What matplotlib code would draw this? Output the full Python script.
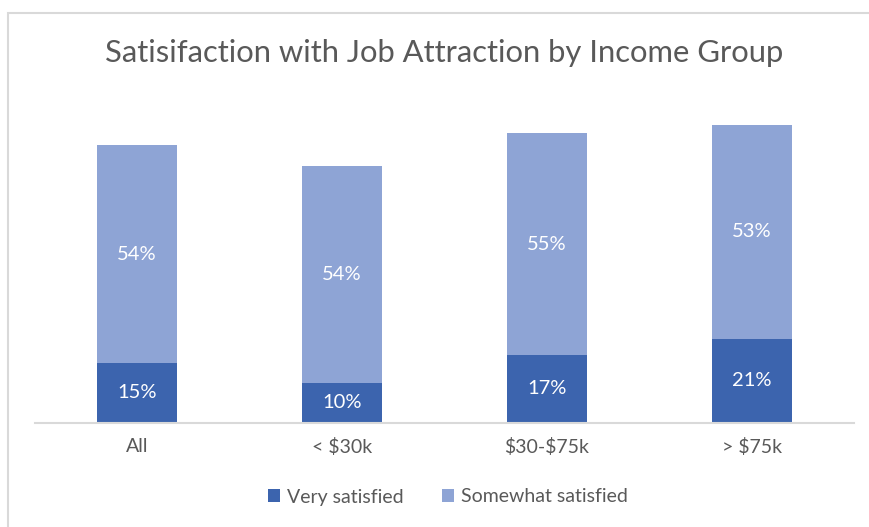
import numpy as np
import matplotlib.pyplot as plt
from matplotlib.patches import Rectangle

plt.rcParams['font.family'] = ['Lato', 'DejaVu Sans']
plt.rcParams['text.parse_math'] = False  # dollar signs in the labels

groups = ['All', '< $30k', '$30-$75k', '> $75k']
very = [15, 10, 17, 21]
somewhat = [54, 54, 55, 53]
series_names = ['Very satisfied', 'Somewhat satisfied']

dark = '#3C64AE'
light = '#8EA4D5'
grey = '#595959'

fig = plt.figure(figsize=(8.7, 5.27), dpi=100)

# light grey chart frame (right/bottom edges fall outside the image)
fig.patches.append(Rectangle((8 / 870, -0.05), 1.0, 1 - 12.5 / 527 + 0.05,
                             transform=fig.transFigure, fill=False,
                             edgecolor='#d9d9d9', linewidth=1.5))

ax = fig.add_axes([34.5 / 870, (527 - 423) / 527, 820 / 870, 323 / 527])
x = np.arange(len(groups))
w = 0.395
b1 = ax.bar(x, very, w, color=dark, label=series_names[0])
b2 = ax.bar(x, somewhat, w, bottom=very, color=light, label=series_names[1])

for i in range(len(groups)):
    ax.text(x[i], very[i] / 2, f'{very[i]}%', ha='center', va='center',
            color='white', fontsize=14.5)
    ax.text(x[i], very[i] + somewhat[i] / 2, f'{somewhat[i]}%', ha='center',
            va='center', color='white', fontsize=14.5)

ax.set_xlim(-0.5, 3.5)
ax.set_ylim(0, 80.3)
ax.set_yticks([])
ax.set_xticks(x)
ax.set_xticklabels(groups, fontsize=14, color=grey)
ax.tick_params(axis='x', length=0, pad=11)
for s in ['top', 'right', 'left']:
    ax.spines[s].set_visible(False)
ax.spines['bottom'].set_color('#d9d9d9')
ax.spines['bottom'].set_linewidth(1.5)

fig.text(444 / 870, 1 - 53 / 527, 'Satisifaction with Job Attraction by Income Group',
         ha='center', va='center', fontsize=22.3, color=grey)

fig.legend(handles=[b1, b2], loc='center', bbox_to_anchor=(448 / 870, 1 - 497 / 527),
           ncol=2, frameon=False, fontsize=14, handlelength=0.6,
           handleheight=0.6, columnspacing=2.0, handletextpad=0.35,
           labelcolor=grey)

fig.savefig('out.png', dpi=100)
